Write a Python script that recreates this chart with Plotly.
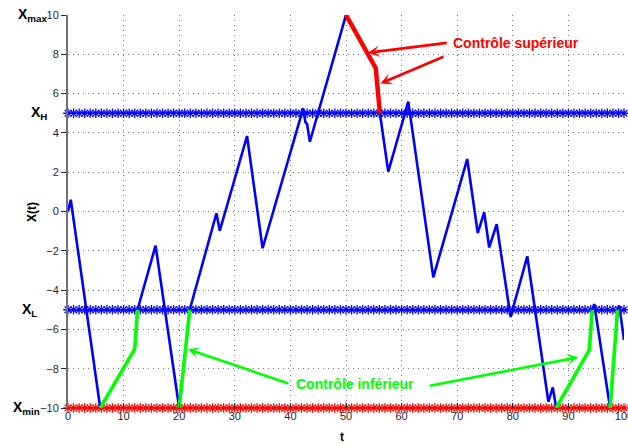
import plotly.graph_objects as go

# ---- data ----
X_MAX, X_H, X_L, X_MIN = 10, 5, -5, -10
t_samples = list(range(0, 101))  # sample times of the threshold lines (every unit of t)

# free trajectory (blue), None = break where a control segment takes over
blue_t = [0, 0.5, 5.8, None,
          12.5, 15.75, 20.0, None,
          21.9, 26.7, 27.3, 32.2, 35.0, 42.3, 42.7, 43.0, 43.5, 50.0, None,
          56.1, 57.6, 61.2, 65.7, 71.8, 73.7, 74.85, 75.75, 77.1, 79.6, 82.6, 86.4, 87.2, 87.8, None,
          94.3, 94.65, 97.5, None,
          98.85, 99.15, 100.0]
blue_x = [0, 0.6, -10, None,
          -5, -1.74, -10, None,
          -5, -0.09, -0.98, 3.84, -1.87, 5.25, 4.55, 4.45, 3.55, 10.0, None,
          5.0, 2.03, 5.59, -3.35, 2.67, -1.1, -0.04, -1.83, -0.65, -5.37, -2.28, -9.68, -8.95, -10, None,
          -5, -4.71, -10, None,
          -5, -4.79, -6.54]

# upper control (red)
red_t = [50.0, 55.35, 56.1]
red_x = [10.0, 7.29, 5.0]

# lower control (green)
green_t = [5.8, 12.0, 12.5, None, 20.0, 21.2, 21.9, None, 87.8, 93.75, 94.3, None, 97.5, 98.85]
green_x = [-10, -7.0, -5, None, -10, -7.0, -5, None, -10, -7.05, -5, None, -10, -5]

y_ticks = [-10, -8, -6, -4, -2, 0, 2, 4, 6, 8, 10]
x_ticks = [0, 10, 20, 30, 40, 50, 60, 70, 80, 90, 100]

# ---- figure ----
W, H = 628, 445
ML, MR, MT, MB = 68, 4, 15, 37
PW = W - ML - MR
PH = H - MT - MB

def px_x(p):
    return (p - ML) / PW

def px_y(p):
    return 1 - (p - MT) / PH

fig = go.Figure()

def star_line(level, color, mcolor):
    fig.add_trace(go.Scatter(
        x=t_samples, y=[level] * len(t_samples), mode="lines+markers",
        line=dict(color=color, width=1.5),
        marker=dict(symbol="asterisk-open", size=8, line=dict(color=mcolor, width=1.3)),
        cliponaxis=False, hoverinfo="skip", showlegend=False))

star_line(X_H, "#0000ff", "rgba(40,40,255,0.75)")
star_line(X_L, "#0000ff", "rgba(40,40,255,0.75)")
star_line(X_MIN, "#ff0000", "rgba(255,40,40,0.75)")

fig.add_trace(go.Scatter(x=blue_t, y=blue_x, mode="lines",
                         line=dict(color="#0000ff", width=2.6),
                         connectgaps=False, showlegend=False))
fig.add_trace(go.Scatter(x=green_t, y=green_x, mode="lines",
                         line=dict(color="#00ff00", width=3.6),
                         connectgaps=False, showlegend=False))
fig.add_trace(go.Scatter(x=red_t, y=red_x, mode="lines",
                         line=dict(color="#ff0000", width=4.5),
                         showlegend=False))

ann = []

def arrow(tail, tip, color):
    ann.append(dict(x=tip[0], y=tip[1], ax=tail[0], ay=tail[1],
                    xref="x", yref="y", axref="x", ayref="y",
                    text="", showarrow=True, arrowhead=3, arrowsize=0.75,
                    arrowwidth=2.6, arrowcolor=color, standoff=0, startstandoff=0))

arrow((68.4, 8.59), (53.97, 8.08), "#ff0000")
arrow((67.8, 7.91), (56.2, 6.52), "#ff0000")
arrow((39.9, -8.78), (21.57, -7.01), "#00ff00")
arrow((64.8, -8.88), (91.77, -7.42), "#00ff00")

FONT = "Liberation Sans, Arial, Helvetica, sans-serif"
ann.append(dict(x=80.5, y=8.56, xref="x", yref="y", text="<b>Contrôle supérieur</b>",
                showarrow=False, font=dict(family=FONT, size=14, color="#ff0000")))
ann.append(dict(x=51.7, y=-8.8, xref="x", yref="y", text="<b>Contrôle inférieur</b>",
                showarrow=False, font=dict(family=FONT, size=14, color="#00ff00")))

# threshold labels on the left
for txt, lvl, right in [("X<sub>max</sub>", X_MAX, 49.5), ("X<sub>H</sub>", X_H, 48.5),
                        ("X<sub>L</sub>", X_L, 38.5), ("X<sub>min</sub>", X_MIN, 42)]:
    ann.append(dict(x=px_x(right), y=lvl, xref="paper", yref="y", text="<b>" + txt + "</b>",
                    xanchor="right", yanchor="middle", yshift=0, showarrow=False,
                    font=dict(family=FONT, size=14, color="#000000")))

# axis titles
ann.append(dict(x=px_x(32), y=px_y(212), xref="paper", yref="paper", text="<b>X(t)</b>",
                textangle=-90, showarrow=False, xanchor="center", yanchor="middle",
                font=dict(family=FONT, size=12, color="#000000")))
ann.append(dict(x=px_x(342), y=px_y(437), xref="paper", yref="paper", text="<b>t</b>",
                showarrow=False, xanchor="center", yanchor="middle",
                font=dict(family=FONT, size=12, color="#000000")))

fig.update_layout(
    width=W, height=H,
    margin=dict(l=ML, r=MR, t=MT, b=MB, pad=0),
    paper_bgcolor="white", plot_bgcolor="white",
    font=dict(family=FONT, size=11, color="#262626"),
    annotations=ann,
    showlegend=False,
)
fig.update_xaxes(range=[0, 100], tickvals=x_ticks, ticks="inside", ticklen=5,
                 tickcolor="#262626", showline=False, zeroline=False,
                 showgrid=True, gridcolor="#777777", griddash="1px,4px", gridwidth=1,
                 automargin=False, ticklabeloverflow="allow",
                 tickfont=dict(size=11, color="#262626"))
fig.update_yaxes(range=[-10, 10], tickvals=y_ticks, ticks="outside", ticklen=5,
                 tickcolor="#262626", showline=True, linecolor="#707070", linewidth=2,
                 zeroline=False, showgrid=True, gridcolor="#777777", griddash="1px,4px",
                 gridwidth=1, automargin=False, ticklabeloverflow="allow",
                 tickfont=dict(size=11, color="#262626"))

fig.write_html("out.html")
